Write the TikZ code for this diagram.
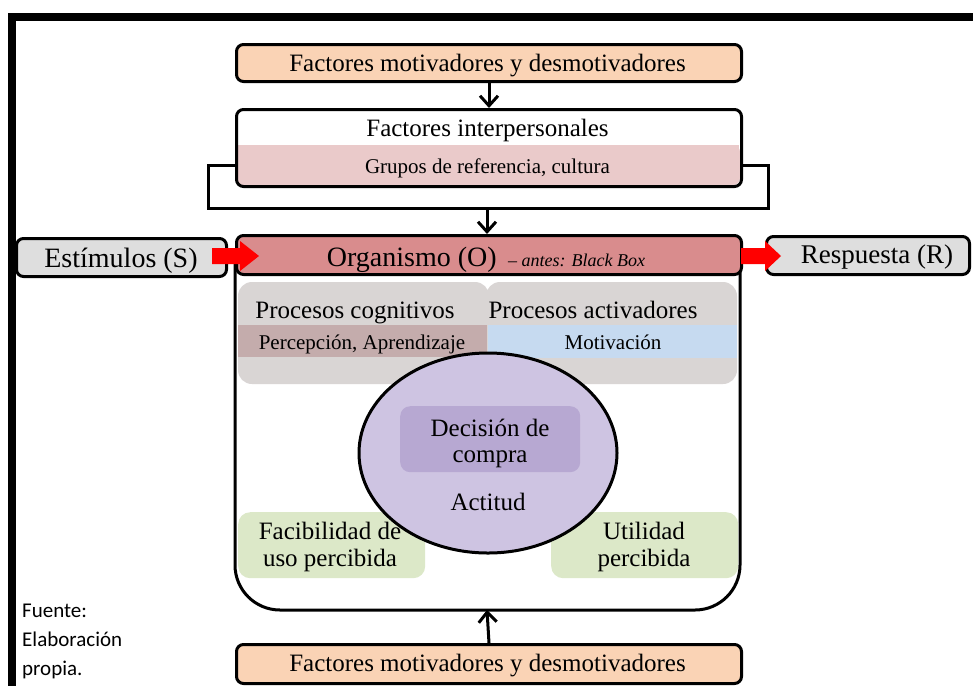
\documentclass[tikz,border=0pt]{standalone}
\usepackage{fontspec}
\setmainfont{Liberation Serif}
\newfontfamily\notefont{Carlito}
\usetikzlibrary{arrows.meta,calc}

\definecolor{cOrange}{RGB}{250,211,181}
\definecolor{cGrey}{RGB}{222,222,222}
\definecolor{cOrg}{RGB}{217,140,141}
\definecolor{cPink}{RGB}{234,202,202}
\definecolor{cProc}{RGB}{217,213,212}
\definecolor{cPerc}{RGB}{196,172,172}
\definecolor{cMotiv}{RGB}{198,218,240}
\definecolor{cLav}{RGB}{206,196,226}
\definecolor{cDec}{RGB}{183,168,210}
\definecolor{cGreen}{RGB}{220,232,200}

\tikzset{
  x=1pt, y=-1pt,
  boxline/.style={draw=black, line width=3pt, rounded corners=7pt},
  lbl/.style={font=\fontsize{25}{27}\selectfont, inner sep=0pt, anchor=base},
  slbl/.style={font=\fontsize{21}{23}\selectfont, inner sep=0pt, anchor=base},
  flow/.style={-{Straight Barb[length=10pt,width=18pt,line width=3pt]}, line width=3pt},
  redarrow/.style={draw=none, fill=red},
  softbox/.style={rounded corners=12pt, minimum width=187pt, minimum height=66pt, anchor=north west},
  note/.style={font=\notefont\fontsize{21}{23}\selectfont, anchor=base west, inner sep=0pt},
}

\begin{document}
\begin{tikzpicture}
\useasboundingbox (0,0) rectangle (973,686);

% page frame (top and left rules)
\fill[black] (8,13) rectangle (973,21);
\fill[black] (8,13) rectangle (16,686);

% --- top: motivating factors
\node[boxline, fill=cOrange, minimum width=505pt, minimum height=37pt, anchor=north west] (topf) at (235,43) {};
\node[lbl] at (487.5,71) {Factores motivadores y desmotivadores};

% --- interpersonal factors with the feedback bracket
\coordinate (brL) at (235,165);
\coordinate (brR) at (740,165);
\coordinate (brB) at (487,208);
\draw[line width=3pt] (brL) -- (208,165) -- (208,208) -- (768,208) -- (768,165) -- (brR);
\path[fill=white, rounded corners=7pt] (235,108) rectangle (740,185);
\path[fill=cPink, rounded corners=7pt] (235,145) -- (235,185) -- (740,185) -- (740,145) -- cycle;
\fill[cPink] (236,145) rectangle (739,165);
\node[boxline, minimum width=505pt, minimum height=77pt, anchor=north west] (inter) at (235,108) {};
\node[lbl] (interT) at (487.5,136) {Factores interpersonales};
\node[slbl] (grupos) at (487.5,173) {Grupos de referencia, cultura};

\draw[flow] (topf.south) -- (inter.north);
\draw[flow] (brB) -- (487,234);

% --- organism container (square top hidden by the header, rounded bottom)
\draw[line width=3pt, fill=white, rounded corners=45pt] (235,255) -- (235,610) -- (740,610) -- (740,255);
\coordinate (contS) at (487,610);
\node[boxline, fill=cOrg, minimum width=505pt, minimum height=39pt, anchor=north west] (org) at (235,234) {};
\node[inner sep=0pt, anchor=base] at (486,266) {\fontsize{28}{30}\selectfont Organismo (O) \fontsize{18}{20}\selectfont\itshape\ -- antes: Black Box};

% --- stimulus and response
\node[boxline, fill=cGrey, minimum width=210pt, minimum height=38pt, anchor=north west] (est) at (15,237) {};
\node[lbl, font=\fontsize{28}{30}\selectfont] at (121,267) {Estímulos (S)};
\node[boxline, fill=cGrey, minimum width=203pt, minimum height=38pt, anchor=north west] (resp) at (765,235) {};
\node[lbl, font=\fontsize{27}{29}\selectfont] at (877,263) {Respuesta (R)};

\fill[redarrow] (212,248) -- (240,248) -- (240,241) -- (259,256) -- (240,271) -- (240,264) -- (212,264) -- cycle;
\fill[redarrow] (741,248) -- (765,248) -- (765,241) -- (781,256) -- (765,271) -- (765,264) -- (741,264) -- cycle;

% --- processes
\path[fill=cProc, rounded corners=14pt] (238,282) rectangle (489,384);
\path[fill=cProc, rounded corners=14pt] (486,282) rectangle (737,384);
\fill[cProc] (470,330) rectangle (505,384);
\path[fill=cPerc] (238,325) rectangle (487,357);
\path[fill=cMotiv] (488,325) rectangle (737,358);
\node[lbl] (cog) at (355,318) {Procesos cognitivos};
\node[lbl] (act) at (593,318) {Procesos activadores};
\node[slbl] (perc) at (362,349) {Percepción, Aprendizaje};
\node[slbl] (motiv) at (613,349) {Motivación};

% --- perceived ease of use and usefulness
\node[fill=cGreen, softbox] (facil) at (238,512) {};
\node[lbl] at (330,539) {Facibilidad de};
\node[lbl] at (330,566) {uso percibida};
\node[fill=cGreen, softbox] (util) at (551,512) {};
\node[lbl] at (644,539) {Utilidad};
\node[lbl] at (644,566) {percibida};

% --- attitude and purchase decision
\draw[line width=3pt, fill=cLav] (488,453) ellipse [x radius=129pt, y radius=100pt];
\node[fill=cDec, rounded corners=10pt, minimum width=180pt, minimum height=66pt, anchor=north west] (dec) at (400,406) {};
\node[lbl] at (490,436) {Decisión de};
\node[lbl] at (490,462) {compra};
\node[lbl] (actitud) at (488,510) {Actitud};

% --- bottom: motivating factors
\node[boxline, fill=cOrange, minimum width=505pt, minimum height=39pt, anchor=north west] (botf) at (235,643) {};
\node[lbl] at (487.5,671) {Factores motivadores y desmotivadores};
\draw[flow] (botf.north) -- (contS);

% --- source note
\node[note] (src1) at (22,617) {Fuente:};
\node[note] (src2) at (22,646) {Elaboración};
\node[note] (src3) at (22,675) {propia.};
\end{tikzpicture}
\end{document}
